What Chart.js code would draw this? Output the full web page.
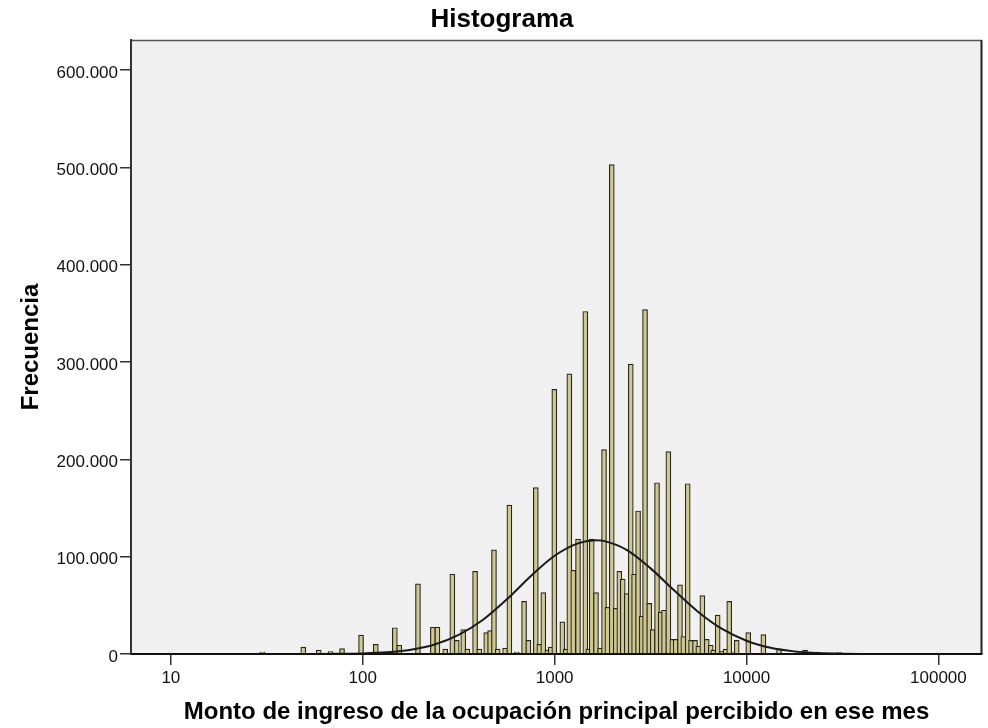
<!DOCTYPE html>
<html>
<head>
<meta charset="utf-8">
<script src="https://cdn.jsdelivr.net/npm/chart.js@4/dist/chart.umd.min.js"></script>
<style>
  html, body { margin: 0; padding: 0; background: #ffffff; }
  #wrap { width: 988px; height: 728px; }
</style>
</head>
<body>
<div id="wrap"><canvas id="c" width="988" height="728"></canvas></div>
<script>
// ---- Data ----
const chartTitle = 'Histograma';
const xAxisTitle = 'Monto de ingreso de la ocupación principal percibido en ese mes';
const yAxisTitle = 'Frecuencia';

const xTickValues = [10, 100, 1000, 10000, 100000];
const xTickLabels = ['10', '100', '1000', '10000', '100000'];
const yTickValues = [0, 100000, 200000, 300000, 400000, 500000, 600000];
const yTickLabels = ['0', '100.000', '200.000', '300.000', '400.000', '500.000', '600.000'];

// histogram bins: centre of each bin (income) and its frequency
const binIncome = [30, 49, 59, 68, 78, 98, 117, 137, 147, 155, 194, 232, 245, 269, 293, 309, 334, 351, 385, 405,
  440, 461, 483, 505, 552, 581, 635, 693, 730, 798, 832, 873, 916, 954, 996, 1097, 1143, 1193, 1251, 1324,
  1445, 1499, 1561, 1643, 1725, 1809, 1883, 1985, 2081, 2173, 2264, 2376, 2493, 2594, 2722, 2845, 2959, 3114, 3243, 3417,
  3572, 3716, 3915, 4105, 4273, 4501, 4684, 4937, 5139, 5391, 5609, 5886, 6205, 6509, 6711, 7073, 7451, 7780, 8128, 8531,
  8890, 10210, 12240, 14770, 18490, 20180, 30340];
const binCount = [2000, 7000, 4000, 2500, 5500, 19500, 10000, 1000, 27000, 9000, 72000, 27500, 27500, 5000, 82000, 14000, 25000, 5000, 85000, 5000,
  22000, 24000, 107000, 5000, 6000, 153000, 2000, 54000, 14000, 171000, 10000, 63000, 4000, 7000, 272000, 33000, 5000, 288000, 86000, 118000,
  352000, 5000, 118000, 63000, 6000, 210000, 48000, 503000, 47000, 85000, 77000, 62000, 298000, 82000, 147000, 39000, 354000, 52000, 25000, 176000,
  43000, 45000, 208000, 15000, 15000, 71000, 18000, 175000, 14000, 14000, 8000, 60000, 15000, 9000, 4000, 40000, 3000, 5000, 54000, 2000,
  14000, 22000, 20000, 5000, 1500, 4000, 1500];

// normal curve (income, frequency)
const curveIncome = [6.2, 10, 32, 56, 75, 100, 133, 178, 237, 316, 422, 562, 750, 1000, 1334, 1644, 1778, 2371, 3162,
  4217, 5623, 7499, 10000, 13335, 17783, 23714, 31623, 56234, 100000, 168000];
const curveCount = [0, 0, 0, 60, 200, 630, 1760, 4380, 9800, 19600, 34900, 55900, 80000, 101000, 114000, 117000, 116500, 107000, 88000,
  65000, 43000, 25500, 13600, 6400, 2700, 1020, 340, 30, 0, 0];

// ---- Chart ----
const binPoints = binIncome.map((v, i) => ({ x: v, y: binCount[i] }));
const curvePoints = curveIncome.map((v, i) => ({ x: v, y: curveCount[i] }));

const FONT = "'Liberation Sans', Arial, Helvetica, sans-serif";

const plotFrame = {
  id: 'plotFrame',
  beforeDraw(chart) {
    const a = chart.chartArea, ctx = chart.ctx;
    ctx.save();
    ctx.fillStyle = '#f0f0f0';
    ctx.fillRect(a.left, a.top, a.right - a.left, a.bottom - a.top);
    ctx.restore();
  },
  afterDatasetsDraw(chart) {
    const a = chart.chartArea, ctx = chart.ctx;
    ctx.save();
    ctx.strokeStyle = '#555555';
    ctx.lineWidth = 1.5;
    ctx.beginPath();
    ctx.moveTo(a.left, a.top + 0.5);
    ctx.lineTo(a.right, a.top + 0.5);
    ctx.stroke();
    ctx.strokeStyle = '#222222';
    ctx.lineWidth = 2;
    ctx.beginPath();
    ctx.moveTo(a.right - 0.5, a.top);
    ctx.lineTo(a.right - 0.5, a.bottom);
    ctx.stroke();
    ctx.restore();
  }
};

new Chart(document.getElementById('c'), {
  type: 'bar',
  data: {
    datasets: [
      {
        type: 'line',
        data: curvePoints,
        borderColor: '#1a1a1a',
        borderWidth: 2,
        pointRadius: 0,
        tension: 0.4,
        cubicInterpolationMode: 'monotone',
        fill: false,
        order: 0
      },
      {
        type: 'bar',
        data: binPoints,
        backgroundColor: '#cfc890',
        borderColor: '#26261c',
        borderWidth: 1.2,
        borderSkipped: 'start',
        barThickness: 5,
        order: 1
      }
    ]
  },
  options: {
    responsive: false,
    animation: false,
    parsing: true,
    layout: { padding: { left: 22, right: 6, top: 0, bottom: 0 } },
    plugins: {
      legend: { display: false },
      tooltip: { enabled: false },
      title: {
        display: true,
        text: chartTitle,
        color: '#000',
        font: { family: FONT, size: 26, weight: 'bold' },
        padding: { top: 4, bottom: 4.8 }
      }
    },
    scales: {
      x: {
        type: 'logarithmic',
        min: 6.2,
        max: 168700,
        offset: false,
        afterBuildTicks(scale) { scale.ticks = xTickValues.map(v => ({ value: v })); },
        afterFit(scale) { scale.height = 74; },
        ticks: {
          autoSkip: false,
          maxRotation: 0,
          padding: 3,
          color: '#111',
          font: { family: FONT, size: 17 },
          callback: (v, i) => xTickLabels[i]
        },
        grid: { display: true, drawOnChartArea: false, drawTicks: true, tickLength: 11, color: '#333', lineWidth: 1.5, offset: false },
        border: { display: true, color: '#111', width: 2, z: 1 },
        title: {
          display: true,
          text: xAxisTitle,
          color: '#000',
          font: { family: FONT, size: 24, weight: 'bold' },
          padding: { top: 0, bottom: 1 }
        }
      },
      y: {
        type: 'linear',
        min: 0,
        max: 631000,
        afterBuildTicks(scale) { scale.ticks = yTickValues.map(v => ({ value: v })); },
        afterFit(scale) { scale.width = 109; },
        ticks: {
          autoSkip: false,
          padding: 2,
          labelOffset: 3,
          color: '#111',
          font: { family: FONT, size: 17 },
          callback: (v, i) => yTickLabels[i]
        },
        grid: { display: true, drawOnChartArea: false, drawTicks: true, tickLength: 11, color: '#333', lineWidth: 1.5 },
        border: { display: true, color: '#333', width: 2, z: 1 },
        title: {
          display: true,
          text: yAxisTitle,
          color: '#000',
          font: { family: FONT, size: 24, weight: 'bold' },
          padding: { top: -5.4, bottom: 0 }
        }
      }
    }
  },
  plugins: [plotFrame]
});
</script>
</body>
</html>
